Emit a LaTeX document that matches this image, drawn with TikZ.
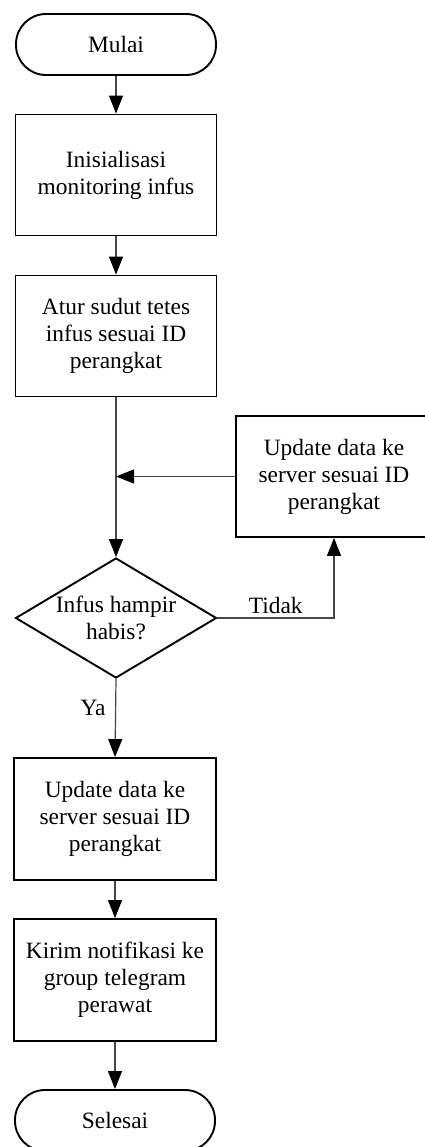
\documentclass[tikz,border=0pt]{standalone}
\usepackage{fontspec}
\setmainfont{Liberation Serif}
\usetikzlibrary{arrows.meta,shapes.geometric}

\begin{document}
\begin{tikzpicture}[x=1pt,y=-1pt]
	\tikzstyle{every node}=[font=\fontsize{23.4pt}{27pt}\selectfont]
	\tikzstyle{proses}=[draw, line width=1.9pt, minimum width=201pt, minimum height=121pt, align=center, inner sep=0pt]
	\tikzstyle{terminal}=[draw, line width=1.9pt, rounded corners=30pt, minimum width=200pt, minimum height=61pt]
	\tikzstyle{keputusan}=[draw, diamond, line width=1.9pt, minimum width=201pt, minimum height=120pt, inner sep=0pt]
	\tikzstyle{panah}=[draw={rgb,255:red,70; green,70; blue,70}, line width=1.2pt, -{Triangle[length=18pt,width=14pt,color=black]}]
	
	\useasboundingbox (0,0) rectangle (425,1147);
	
	\node[terminal] (mulai) at (116,44.5) {Mulai};
	\node[proses] (init) at (116,175) {Inisialisasi\\monitoring infus};
	\node[proses] (atur) at (116,336) {Atur sudut tetes\\infus sesuai ID\\perangkat};
	\node[proses, minimum width=196pt] (updR) at (334,476.5) {Update data ke\\server sesuai ID\\perangkat};
	\node[keputusan] (cek) at (116,618) {};
	\node[align=center] (cektxt) at (cek) {Infus hampir\\habis?};
	\node[proses, minimum width=202pt, minimum height=122pt] (upd) at (115,819) {Update data ke\\server sesuai ID\\perangkat};
	\node[proses, minimum width=202pt, minimum height=122pt] (kirim) at (115,980) {Kirim notifikasi ke\\group telegram\\perawat};
	\node[terminal] (selesai) at (115,1120.5) {Selesai};
	
	\coordinate (gabung) at (atur.south |- updR.west);
	
	\draw[panah] (mulai) -- (init);
	\draw[panah] (init) -- (atur);
	\draw[panah] (atur) -- (cek);
	\draw[panah] (updR.west) -- (gabung);
	\draw[panah] (cek.east) -| (updR.south) node[pos=0.25, above] (tidak) {Tidak};
	\draw[panah] (cek.south) -- (upd.north);
	\node (ya) at (93,708) {Ya};
	\draw[panah] (upd) -- (kirim);
	\draw[panah] (kirim) -- (selesai);
	
\end{tikzpicture}
\end{document}
